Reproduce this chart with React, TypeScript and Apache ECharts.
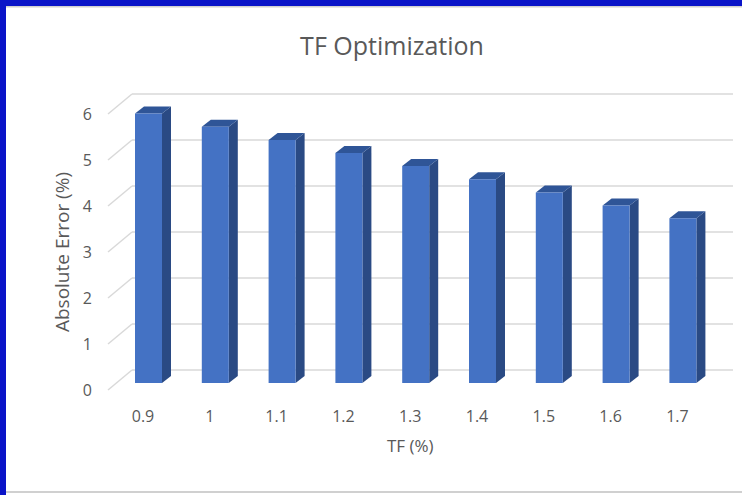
import React, { useEffect, useRef } from 'react';
import * as echarts from 'echarts';

const categories = ['0.9', '1', '1.1', '1.2', '1.3', '1.4', '1.5', '1.6', '1.7'];
const errorValues = [5.86, 5.57, 5.28, 5.0, 4.72, 4.43, 4.14, 3.86, 3.58];
const yTicks = [0, 1, 2, 3, 4, 5, 6];

const chartTitle = 'TF Optimization';
const xTitle = 'TF (%)';
const yTitle = 'Absolute Error (%)';

export default function App() {
  const ref = useRef<HTMLDivElement>(null);

  useEffect(() => {
    const chart = echarts.init(ref.current!, null, { renderer: 'svg' });
    const textColor = '#595959';
    const font = "'Open Sans', sans-serif";
    const gridColor = '#d9d9d9';

    const hiddenAxisBits = {
      axisLine: { show: false },
      axisTick: { show: false },
    };

    const option = {
      animation: false,
      backgroundColor: '#ffffff',
      textStyle: { fontFamily: font },
      grid: [
        { left: 109.6, right: 31.2, top: 107, height: 276, outerBoundsMode: 'none' },
        { left: 132, right: 9, top: 94, height: 276, outerBoundsMode: 'none' },
        { left: 108, right: 600, top: 114, height: 276, outerBoundsMode: 'none' },
      ],
      xAxis: [
        {
          type: 'category',
          gridIndex: 0,
          data: categories,
          ...hiddenAxisBits,
          splitLine: { show: false },
          axisLabel: { color: textColor, fontSize: 16, margin: 25, fontFamily: font },
          name: xTitle,
          nameLocation: 'middle',
          nameGap: 54,
          nameTextStyle: { color: textColor, fontSize: 17, fontFamily: font },
        },
        {
          type: 'value',
          gridIndex: 1,
          min: 0,
          max: 1,
          show: false,
        },
        {
          type: 'value',
          gridIndex: 2,
          min: 0,
          max: 1,
          show: false,
        },
      ],
      yAxis: [
        {
          type: 'value',
          gridIndex: 0,
          min: 0,
          max: 6,
          interval: 1,
          show: false,
        },
        {
          type: 'value',
          gridIndex: 1,
          min: 0,
          max: 6,
          interval: 1,
          ...hiddenAxisBits,
          axisLabel: { show: false },
          splitLine: { show: true, lineStyle: { color: gridColor, width: 1.5 } },
        },
        {
          type: 'value',
          gridIndex: 2,
          min: 0,
          max: 6,
          interval: 1,
          ...hiddenAxisBits,
          splitLine: { show: false },
          axisLabel: { color: textColor, fontSize: 16, margin: 16, fontFamily: font },
          name: yTitle,
          nameLocation: 'middle',
          nameGap: 37,
          nameRotate: 90,
          nameTextStyle: { color: textColor, fontSize: 19, fontFamily: font },
        },
      ],
      series: [
        {
          type: 'custom',
          name: 'floor',
          xAxisIndex: 2,
          yAxisIndex: 2,
          data: yTicks.map((t) => [0, t]),
          silent: true,
          renderItem: (params: any, api: any) => {
            const p = api.coord([api.value(0), api.value(1)]);
            return {
              type: 'line',
              shape: { x1: p[0], y1: p[1], x2: p[0] + 24, y2: p[1] - 20 },
              style: { stroke: gridColor, lineWidth: 1.5 },
            };
          },
          z: 1,
        },
        {
          type: 'custom',
          name: 'Absolute Error',
          xAxisIndex: 0,
          yAxisIndex: 0,
          data: errorValues.map((v, i) => [i, v]),
          renderItem: (params: any, api: any) => {
            const top = api.coord([api.value(0), api.value(1)]);
            const base = api.coord([api.value(0), 0]);
            const w = 27;
            const dx = 9;
            const dy = 7;
            const fx = top[0] - 8;
            const ty = top[1];
            const by = base[1];
            return {
              type: 'group',
              children: [
                {
                  type: 'polygon',
                  shape: {
                    points: [
                      [fx + w, ty],
                      [fx + w + dx, ty - dy],
                      [fx + w + dx, by - dy],
                      [fx + w, by],
                    ],
                  },
                  style: { fill: '#2a4a84' },
                },
                {
                  type: 'polygon',
                  shape: {
                    points: [
                      [fx, ty],
                      [fx + dx, ty - dy],
                      [fx + w + dx, ty - dy],
                      [fx + w, ty],
                    ],
                  },
                  style: { fill: '#2f5597' },
                },
                {
                  type: 'rect',
                  shape: { x: fx, y: ty, width: w, height: by - ty },
                  style: { fill: '#4472c4' },
                },
              ],
            };
          },
          z: 3,
        },
      ],
      graphic: [
        {
          type: 'text',
          x: 392,
          y: 45,
          style: {
            text: chartTitle,
            textAlign: 'center',
            textVerticalAlign: 'middle',
            fontSize: 25,
            fontFamily: font,
            fill: textColor,
          },
        },
        { type: 'rect', shape: { x: 0, y: 0, width: 742, height: 6 }, style: { fill: '#0a14c8' } },
        { type: 'rect', shape: { x: 6, y: 6, width: 736, height: 1.5 }, style: { fill: '#d0d0d0' } },
        { type: 'rect', shape: { x: 0, y: 0, width: 6, height: 495 }, style: { fill: '#0a14c8' } },
        { type: 'rect', shape: { x: 6, y: 491, width: 736, height: 2 }, style: { fill: '#d0d0d0' } },
      ],
    };

    chart.setOption(option as any);
    return () => {
      chart.dispose();
    };
  }, []);

  return (
    <div
      ref={ref}
      style={{ position: 'fixed', left: 0, top: 0, width: 742, height: 495, background: '#fff' }}
    />
  );
}
